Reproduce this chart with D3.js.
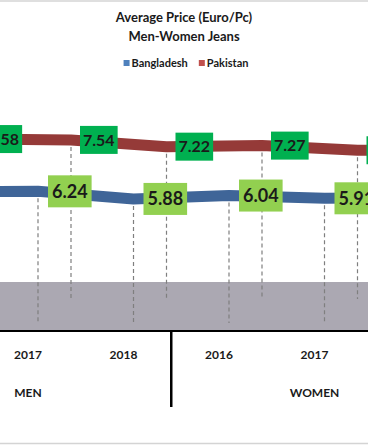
<!DOCTYPE html>
<meta charset="utf-8">
<head>
  <script src="https://cdn.jsdelivr.net/npm/d3@7"></script>
  <style>
    body { margin: 0; background: #fff; }
    text { font-family: Lato, "Open Sans", sans-serif; font-weight: bold; fill: #1a1a1a; }
  </style>
</head>
<body>
<script type="text/javascript">

// Datos (el grafico original esta recortado; WOMEN 2018 estimado del tramo visible)
var grupos = ["MEN", "MEN", "MEN", "WOMEN", "WOMEN", "WOMEN"];
var anios = ["2016", "2017", "2018", "2016", "2017", "2018"];
var bangladesh = [6.21, 6.24, 5.88, 6.04, 5.91, 5.93];
var pakistan = [7.58, 7.54, 7.22, 7.27, 7.05, 7.0];
var series = ["Bangladesh", "Pakistan"];

var colorLeyenda = ["#4F81BD", "#C0504D"];
var colorLinea = ["#3F6598", "#953A38"];
var colorEtiqueta = ["#92D050", "#00B050"];

var w = 368, h = 445;

var svg = d3.select("body").append("svg")
  .attr("width", w)
  .attr("height", h);

// escalas: paso de categoria 95.5px, el primer grupo empieza fuera del cuadro
var paso = 95.5;
var x0 = 28 - 1.5 * paso;
var xScale = d3.scaleBand()
  .domain(d3.range(anios.length))
  .range([x0, x0 + anios.length * paso]);
var yScale = d3.scaleLinear().domain([0, 10]).range([331, 120]);

// desplazamiento de profundidad (grafico 3D) por serie
var prof = [{dx: 10, dy: -8}, {dx: 43, dy: -32}];
var valores = [bangladesh, pakistan];

var centro = function(i) { return xScale(i) + xScale.bandwidth() / 2; };
var visible = function(x) { return x > -30 && x < w + 30; };

// bordes del area del grafico
svg.append("line").attr("x1", 0).attr("x2", w).attr("y1", 1).attr("y2", 1)
  .attr("stroke", "#d4d4d4").attr("stroke-width", 1.5);
svg.append("line").attr("x1", 0).attr("x2", w).attr("y1", 443.5).attr("y2", 443.5)
  .attr("stroke", "#d4d4d4").attr("stroke-width", 1.5);

// titulo
svg.append("text").attr("x", 184).attr("y", 21.5).attr("text-anchor", "middle")
  .attr("font-size", 13).text("Average Price (Euro/Pc)");
svg.append("text").attr("x", 184).attr("y", 40.5).attr("text-anchor", "middle")
  .attr("font-size", 13).text("Men-Women Jeans");

// leyenda
var ley = svg.append("g");
var lx = 0;
series.forEach(function(s, i) {
  var g = ley.append("g").attr("transform", "translate(" + lx + ",0)");
  g.append("rect").attr("x", 0).attr("y", 60).attr("width", 6).attr("height", 6)
    .attr("fill", colorLeyenda[i]);
  var t = g.append("text").attr("x", 8).attr("y", 67).attr("font-size", 11).text(s);
  lx += 8 + t.node().getComputedTextLength() + 11;
});
var anchoLey = lx - 11;
ley.attr("transform", "translate(" + (186 - anchoLey / 2) + ",0)");

// piso 3D
svg.append("rect").attr("x", 0).attr("y", 282).attr("width", w).attr("height", 331 - 282)
  .attr("fill", "#ABA8B2");

// lineas verticales punteadas hasta el piso
valores.forEach(function(v, s) {
  svg.selectAll(".drop" + s)
    .data(v.map(function(d, i) { return [i, d]; }))
    .enter().append("line")
    .attr("x1", function(d) { return centro(d[0]) + prof[s].dx; })
    .attr("x2", function(d) { return centro(d[0]) + prof[s].dx; })
    .attr("y1", function(d) { return yScale(d[1]) + prof[s].dy; })
    .attr("y2", yScale(0) + prof[s].dy)
    .attr("stroke", "#7f7f7f")
    .attr("stroke-width", 1.2)
    .attr("stroke-dasharray", "4,3");
});

// cintas (primero la serie de atras)
[1, 0].forEach(function(s) {
  var linea = d3.line()
    .x(function(d, i) { return centro(i) + prof[s].dx; })
    .y(function(d) { return yScale(d) + prof[s].dy; });
  svg.append("path")
    .datum(valores[s])
    .attr("d", linea)
    .attr("fill", "none")
    .attr("stroke", colorLinea[s])
    .attr("stroke-width", 11)
    .attr("stroke-linejoin", "round");
});

// eje x
svg.append("line").attr("x1", 0).attr("x2", w).attr("y1", 331).attr("y2", 331)
  .attr("stroke", "#000").attr("stroke-width", 2);

// separadores de grupo
var cortes = [];
for (var i = 1; i < grupos.length; i++) {
  if (grupos[i] != grupos[i - 1]) cortes.push(i);
}
svg.selectAll(".corte").data(cortes).enter().append("line")
  .attr("x1", function(d) { return xScale(d); })
  .attr("x2", function(d) { return xScale(d); })
  .attr("y1", 331).attr("y2", 407)
  .attr("stroke", "#000").attr("stroke-width", 2.5);

// anios (solo los que caen dentro del recorte)
svg.selectAll(".anio")
  .data(anios.map(function(a, i) { return [i, a]; }).filter(function(d) { return visible(centro(d[0])); }))
  .enter().append("text")
  .attr("x", function(d) { return centro(d[0]); })
  .attr("y", 358.5)
  .attr("text-anchor", "middle")
  .attr("font-size", 12)
  .text(function(d) { return d[1]; });

var nombresGrupo = Array.from(new Set(grupos));
svg.selectAll(".grupo").data(nombresGrupo).enter().append("text")
  .attr("x", function(g) {
    return d3.mean(d3.range(grupos.length).filter(function(i) { return grupos[i] == g; }), centro);
  })
  .attr("y", 396.5)
  .attr("text-anchor", "middle")
  .attr("font-size", 12)
  .text(function(d) { return d; });

// etiquetas de datos (a la derecha del punto)
var tam = [{fs: 18, alto: 32, pad: 4, sep: 10}, {fs: 16, alto: 28, pad: 3, sep: 9}];
[1, 0].forEach(function(s) {
  valores[s].forEach(function(v, i) {
    var px = centro(i) + prof[s].dx;
    var py = yScale(v) + prof[s].dy;
    if (px + tam[s].sep > w || px + tam[s].sep + 45 < 0) return;
    var g = svg.append("g");
    var r = g.append("rect").attr("fill", colorEtiqueta[s]);
    var t = g.append("text")
      .attr("y", py)
      .attr("dy", "0.36em")
      .attr("font-size", tam[s].fs)
      .attr("fill", "#000")
      .text(v.toFixed(2));
    var ancho = t.node().getComputedTextLength();
    t.attr("x", px + tam[s].sep + tam[s].pad);
    r.attr("x", px + tam[s].sep)
      .attr("y", py - tam[s].alto / 2)
      .attr("width", ancho + 2 * tam[s].pad)
      .attr("height", tam[s].alto);
  });
});

</script>
</body>
